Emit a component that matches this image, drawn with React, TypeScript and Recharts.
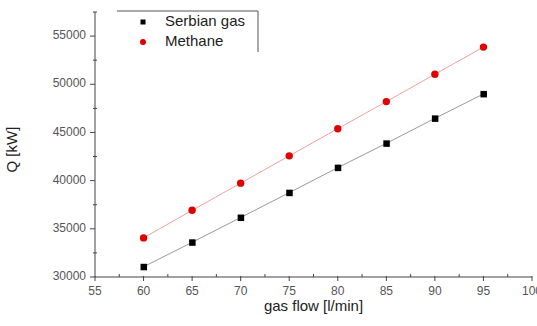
import React from 'react';
import { LineChart, Line, XAxis, YAxis } from 'recharts';

const gasFlow = [60, 65, 70, 75, 80, 85, 90, 95];
const serbianGas = [31060, 33600, 36170, 38750, 41350, 43870, 46460, 49000];
const methane = [34060, 36920, 39740, 42570, 45390, 48200, 51040, 53860];
const xTicks = [55, 57.5, 60, 62.5, 65, 67.5, 70, 72.5, 75, 77.5, 80, 82.5, 85, 87.5, 90, 92.5, 95, 97.5, 100];
const yTicks = [30000, 32500, 35000, 37500, 40000, 42500, 45000, 47500, 50000, 52500, 55000, 57500];
const xMajor = [55, 60, 65, 70, 75, 80, 85, 90, 95, 100];
const yMajor = [30000, 35000, 40000, 45000, 50000, 55000];
const seriesNames = ['Serbian gas', 'Methane'];

const data = gasFlow.map((g, i) => ({ flow: g, serbian: serbianGas[i], methane: methane[i] }));

const FONT = 'Arial, "Liberation Sans", sans-serif';

const XTick = (props: any) => {
  const { x, y, payload } = props;
  const major = xMajor.includes(payload.value);
  return (
    <g>
      <line x1={x} x2={x} y1={major ? y - 1 : y - 3} y2={major ? y + 4 : y} stroke="#444" strokeWidth={1} />
      {major && (
        <text x={x} y={y + 15} textAnchor="middle" dominantBaseline="middle" fontSize={12} fill="#555" fontFamily={FONT}>
          {payload.value}
        </text>
      )}
    </g>
  );
};

const YTick = (props: any) => {
  const { x, y, payload } = props;
  const major = yMajor.includes(payload.value);
  return (
    <g>
      <line x1={major ? x - 5 : x - 2} x2={major ? x : x + 2} y1={y} y2={y} stroke="#444" strokeWidth={1} />
      {major && (
        <text x={x - 9} y={y} textAnchor="end" dominantBaseline="middle" fontSize={12} fill="#555" fontFamily={FONT}>
          {payload.value}
        </text>
      )}
    </g>
  );
};

const SquareDot = (props: any) => {
  const { cx, cy } = props;
  if (cx == null || cy == null) return null;
  return <rect x={cx - 3} y={cy - 3} width={6.5} height={6.5} fill="#000" />;
};

const CircleDot = (props: any) => {
  const { cx, cy } = props;
  if (cx == null || cy == null) return null;
  return <circle cx={cx} cy={cy} r={3.7} fill="#e00000" />;
};

const LegendBox = () => (
  <svg width={160} height={50} style={{ display: 'block', position: 'absolute', left: 110, top: 10 }}>
    <line x1={7} x2={148} y1={1} y2={1} stroke="#555" strokeWidth={1} />
    <line x1={148} x2={148} y1={1} y2={42} stroke="#555" strokeWidth={1} />
    <rect x={30.5} y={9.5} width={5} height={5} fill="#000" />
    <circle cx={33} cy={32} r={3} fill="#e00000" />
    <text x={55} y={12} dominantBaseline="middle" fontSize={15} fill="#222" fontFamily={FONT}>{seriesNames[0]}</text>
    <text x={55} y={32} dominantBaseline="middle" fontSize={15} fill="#222" fontFamily={FONT}>{seriesNames[1]}</text>
  </svg>
);

export default function App() {
  return (
    <div style={{ position: 'absolute', left: 0, top: 0, width: 537, height: 326, background: '#fff' }}>
      <LineChart width={537} height={326} data={data} margin={{ top: 12, right: 5, left: 0, bottom: 0 }}>
        <XAxis
          dataKey="flow"
          type="number"
          domain={[55, 100]}
          ticks={xTicks}
          interval={0}
          tickSize={0}
          tickMargin={0}
          tickLine={false}
          tick={<XTick />}
          height={49}
          stroke="#444"
          label={{ value: 'gas flow [l/min]', position: 'insideBottom', offset: 15, fontSize: 15, fill: '#222', fontFamily: FONT }}
        />
        <YAxis
          type="number"
          domain={[30000, 57500]}
          ticks={yTicks}
          interval={0}
          tickSize={0}
          tickMargin={0}
          tickLine={false}
          tick={<YTick />}
          width={95}
          stroke="#444"
          label={{ value: 'Q [kW]', angle: -90, position: 'insideLeft', offset: 12, dy: 28, fontSize: 15, fill: '#222', fontFamily: FONT }}
        />
        <Line type="linear" dataKey="serbian" name={seriesNames[0]} stroke="#999" strokeWidth={1} dot={<SquareDot />} isAnimationActive={false} />
        <Line type="linear" dataKey="methane" name={seriesNames[1]} stroke="#f4a0a0" strokeWidth={1} dot={<CircleDot />} isAnimationActive={false} />
      </LineChart>
      <LegendBox />
    </div>
  );
}
